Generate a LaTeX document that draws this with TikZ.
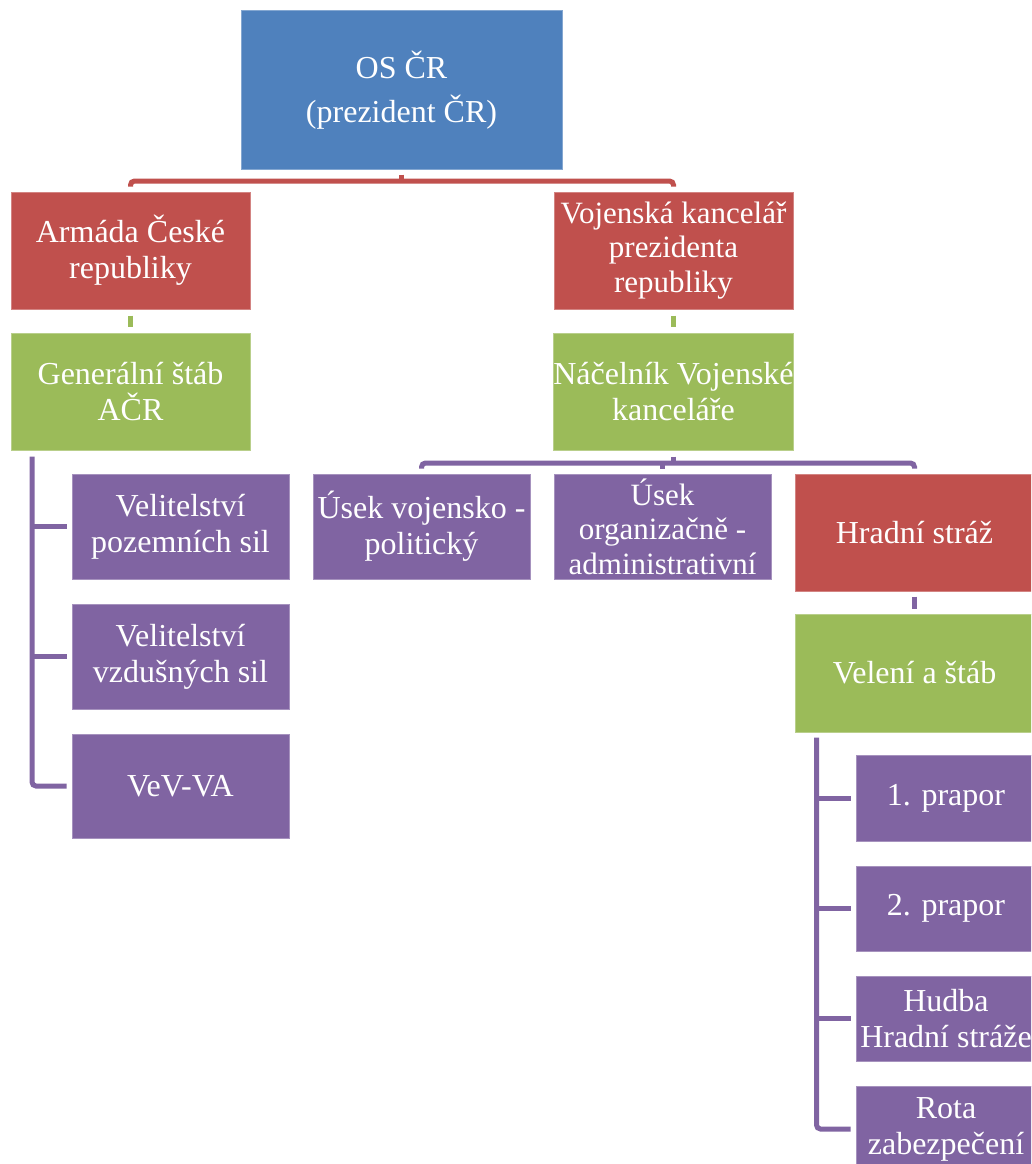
\documentclass[tikz,border=0pt]{standalone}
\usepackage{fontspec}
\setmainfont{Liberation Serif}
\newfontfamily\tnrfont{Liberation Serif}
\usetikzlibrary{calc}
\definecolor{cblue}{HTML}{4F81BD}
\definecolor{cred}{HTML}{C0504D}
\definecolor{cgreen}{HTML}{9BBB59}
\definecolor{cpurp}{HTML}{8064A2}
\tikzset{
  box/.style={rectangle, inner sep=0pt, align=center, text=white, line width=1pt,
    font=\tnrfont\fontsize{32}{36}\selectfont},
  bluebox/.style={box, fill=cblue, draw=cblue!70!white},
  redbox/.style={box, fill=cred, draw=cred!70!white},
  greenbox/.style={box, fill=cgreen, draw=cgreen!70!white},
  purpbox/.style={box, fill=cpurp, draw=cpurp!70!white},
  threeline/.style={font=\tnrfont\fontsize{31}{34.5}\selectfont},
  conn/.style={line width=5pt, rounded corners=4pt},
}
\begin{document}
\begin{tikzpicture}[x=1pt,y=1pt]
\useasboundingbox (0,0) rectangle (1031,-1164);
\clip (0,0) rectangle (1031,-1164);
\fill[white] (0,0) rectangle (1031,-1164);
% nodes
\node[bluebox, minimum width=321, minimum height=158, font=\tnrfont\fontsize{32}{44}\selectfont] (os) at (401.5,-90) {OS ČR\\(prezident ČR)};
\node[redbox, minimum width=239, minimum height=117] (arm) at (130.5,-250.5) {Armáda České\\republiky};
\node[redbox, threeline, minimum width=239, minimum height=117] (vkpr) at (673.5,-250.5) {Vojenská kancelář\\prezidenta\\republiky};
\node[greenbox, minimum width=239, minimum height=117] (gs) at (130.5,-391.5) {Generální štáb\\AČR};
\node[greenbox, minimum width=239, minimum height=117] (nac) at (673.5,-391.5) {Náčelník Vojenské\\kanceláře};
\node[purpbox, minimum width=217, minimum height=105] (vps) at (180.5,-526.5) {Velitelství\\pozemních sil};
\node[purpbox, minimum width=217, minimum height=105] (vvs) at (180.5,-656.5) {Velitelství\\vzdušných sil};
\node[purpbox, minimum width=217, minimum height=104] (vev) at (180.5,-786) {VeV-VA};
\node[purpbox, minimum width=217, minimum height=105] (uvp) at (421.5,-526.5) {Úsek vojensko -\\politický};
\node[purpbox, threeline, minimum width=217, minimum height=105] (uoa) at (662.5,-526.5) {Úsek\\organizačně -\\administrativní};
\node[redbox, minimum width=239, minimum height=117] (hs) at (914.5,-532.5) {Hradní stráž};
\node[greenbox, minimum width=239, minimum height=118] (vas) at (914.5,-673) {Velení a štáb};
\node[purpbox, minimum width=180, minimum height=86] (p1) at (946,-798) {1. prapor};
\node[purpbox, minimum width=180, minimum height=85] (p2) at (946,-908.5) {2. prapor};
\node[purpbox, minimum width=180, minimum height=85] (hud) at (946,-1018.5) {Hudba\\Hradní stráže};
\node[purpbox, minimum width=180, minimum height=86] (rota) at (946,-1129) {Rota\\zabezpečení};
% red connector
\coordinate (osbar) at ($(os.south)+(0,-11.5)$);
\draw[conn, cred] ($(arm.north)+(0,5)$) |- (osbar) -| ($(vkpr.north)+(0,5)$);
\draw[line width=5pt, cred] ($(os.south)+(0,-5)$) -- (osbar);
% green stubs
\draw[line width=5pt, cgreen] ($(arm.south)+(0,-6)$) -- ($(gs.north)+(0,6)$);
\draw[line width=5pt, cgreen] ($(vkpr.south)+(0,-6)$) -- ($(nac.north)+(0,6)$);
% left purple tree
\coordinate (gsl) at ($(gs.south west)+(21.5,-6)$);
\draw[conn, cpurp] (gsl) |- ($(vev.west)+(-5,0)$);
\draw[line width=5pt, cpurp] (gsl |- vps.west) -- ($(vps.west)+(-5,0)$);
\draw[line width=5pt, cpurp] (gsl |- vvs.west) -- ($(vvs.west)+(-5,0)$);
% middle purple
\coordinate (nacbar) at ($(nac.south)+(0,-12.5)$);
\draw[conn, cpurp] ($(uvp.north)+(0,5)$) |- (nacbar) -| ($(hs.north)+(0,5)$);
\draw[line width=5pt, cpurp] ($(nac.south)+(0,-6)$) -- (nacbar);
\draw[line width=5pt, cpurp] (uoa.north |- nacbar) -- ($(uoa.north)+(0,5)$);
% hs to vas
\draw[line width=5pt, cpurp] ($(hs.south)+(0,-5)$) -- ($(vas.north)+(0,5)$);
% right purple tree
\coordinate (vasl) at ($(vas.south west)+(22,-5)$);
\draw[conn, cpurp] (vasl) |- ($(rota.west)+(-5,0)$);
\draw[line width=5pt, cpurp] (vasl |- p1.west) -- ($(p1.west)+(-5,0)$);
\draw[line width=5pt, cpurp] (vasl |- p2.west) -- ($(p2.west)+(-5,0)$);
\draw[line width=5pt, cpurp] (vasl |- hud.west) -- ($(hud.west)+(-5,0)$);
\end{tikzpicture}
\end{document}
